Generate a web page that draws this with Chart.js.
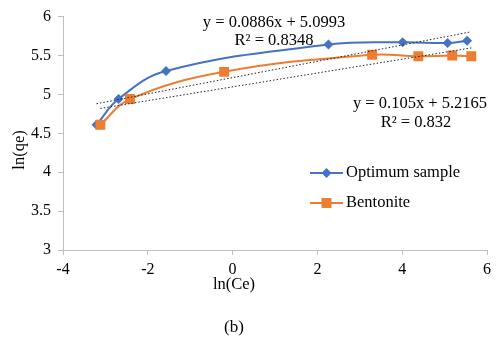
<!DOCTYPE html>
<html>
<head>
<meta charset="utf-8">
<script src="https://cdn.jsdelivr.net/npm/chart.js@4.4.1/dist/chart.umd.min.js"></script>
<style>
  html, body { margin: 0; padding: 0; background: #fff; }
  #wrap { width: 496px; height: 340px; }
</style>
</head>
<body>
<div id="wrap"><canvas id="chart" width="496" height="340"></canvas></div>
<script>
// values
const optX = [-3.21, -2.69, -1.57, 2.26, 4.01, 5.07, 5.53];
const optY = [4.61, 4.94, 5.30, 5.64, 5.67, 5.66, 5.69];
const benX = [-3.12, -2.42, -0.20, 3.29, 4.38, 5.18, 5.63];
const benY = [4.61, 4.94, 5.29, 5.51, 5.49, 5.50, 5.49];
// trendline end points
const trendOptX = [-3.21, 5.58];
const trendOptY = [4.88, 5.80];
const trendBenX = [-3.12, 5.66];
const trendBenY = [4.82, 5.60];
const eqOpt = ["y = 0.0886x + 5.0993", "R² = 0.8348"];
const eqBen = ["y = 0.105x + 5.2165", "R² = 0.832"];
const seriesNames = ["Optimum sample", "Bentonite"];

const blue = "#4472C4";
const orange = "#ED7D31";
const serif = "'Liberation Serif', 'Times New Roman', serif";

function pts(xs, ys) {
    return xs.map((x, i) => ({ x: x, y: ys[i] }));
}

const textPlugin = {
    id: "texts",
    afterDraw(chart) {
        const ctx = chart.ctx;
        ctx.save();
        ctx.fillStyle = "#000";
        ctx.textBaseline = "middle";
        ctx.font = "16.5px " + serif;
        ctx.textAlign = "center";
        ctx.fillText(eqOpt[0], 274, 23);
        ctx.fillText(eqOpt[1], 274, 41);
        ctx.fillText(eqBen[0], 420, 104);
        ctx.fillText(eqBen[1], 416, 123);
        // axis titles
        ctx.fillText("ln(Ce)", 234, 285);
        ctx.font = "17px " + serif;
        ctx.fillText("(b)", 234, 328);
        ctx.font = "16.5px " + serif;
        ctx.translate(20, 150);
        ctx.rotate(-Math.PI / 2);
        ctx.fillText("ln(qe)", 0, 0);
        ctx.restore();

        // legend
        ctx.save();
        const items = [
            { y: 173, color: blue, style: "diamond" },
            { y: 203, color: orange, style: "square" },
        ];
        items.forEach((it, i) => {
            ctx.strokeStyle = it.color;
            ctx.lineWidth = 2;
            ctx.beginPath();
            ctx.moveTo(310, it.y);
            ctx.lineTo(343, it.y);
            ctx.stroke();
            ctx.fillStyle = it.color;
            ctx.beginPath();
            if (it.style === "diamond") {
                ctx.moveTo(326.5, it.y - 5);
                ctx.lineTo(331.5, it.y);
                ctx.lineTo(326.5, it.y + 5);
                ctx.lineTo(321.5, it.y);
                ctx.closePath();
            } else {
                ctx.rect(321.5, it.y - 5, 10, 10);
            }
            ctx.fill();
            ctx.fillStyle = "#000";
            ctx.font = "16.5px " + serif;
            ctx.textAlign = "left";
            ctx.textBaseline = "middle";
            ctx.fillText(seriesNames[i], 346, it.y);
        });
        ctx.restore();
    },
};

new Chart(document.getElementById("chart"), {
    type: "scatter",
    data: {
        datasets: [
            {
                label: "trend opt",
                data: pts(trendOptX, trendOptY),
                showLine: true,
                borderColor: "#222",
                borderWidth: 1,
                borderDash: [1.5, 2],
                pointRadius: 0,
            },
            {
                label: "trend ben",
                data: pts(trendBenX, trendBenY),
                showLine: true,
                borderColor: "#222",
                borderWidth: 1,
                borderDash: [1.5, 2],
                pointRadius: 0,
            },
            {
                label: seriesNames[1],
                data: pts(benX, benY),
                showLine: true,
                tension: 0.4,
                borderColor: orange,
                backgroundColor: orange,
                borderWidth: 2,
                pointStyle: "rect",
                pointRadius: 7,
                pointBorderWidth: 0,
            },
            {
                label: seriesNames[0],
                data: pts(optX, optY),
                showLine: true,
                tension: 0.4,
                borderColor: blue,
                backgroundColor: blue,
                borderWidth: 2,
                pointStyle: "rectRot",
                pointRadius: 5,
                pointBorderWidth: 0,
            },
        ],
    },
    options: {
        responsive: false,
        animation: false,
        layout: { padding: { left: 0, right: 5, top: 15, bottom: 0 } },
        plugins: {
            legend: { display: false },
            tooltip: { enabled: false },
        },
        scales: {
            x: {
                min: -4,
                max: 6,
                ticks: {
                    stepSize: 2,
                    padding: 5,
                    color: "#000",
                    font: { family: serif, size: 16 },
                },
                grid: { drawOnChartArea: false, tickLength: 5, color: "#bfbfbf" },
                border: { color: "#bfbfbf" },
                afterFit: (s) => { s.height = 90; },
            },
            y: {
                min: 3,
                max: 6,
                ticks: {
                    stepSize: 0.5,
                    padding: 7,
                    color: "#000",
                    font: { family: serif, size: 16 },
                    callback: (v) => String(v),
                },
                grid: { drawOnChartArea: false, tickLength: 5, color: "#bfbfbf" },
                border: { color: "#bfbfbf" },
                afterFit: (s) => { s.width = 63; },
            },
        },
    },
    plugins: [textPlugin],
});
</script>
</body>
</html>
